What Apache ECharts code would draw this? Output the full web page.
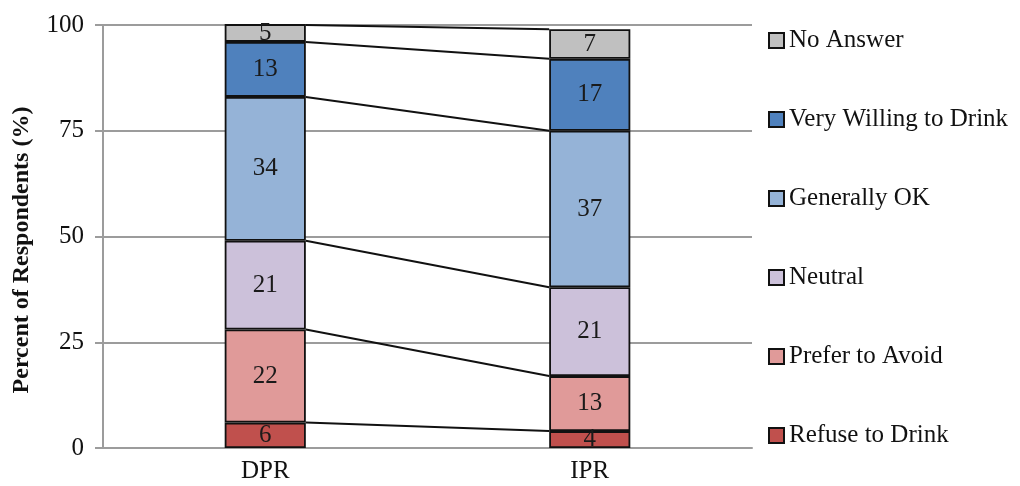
<!DOCTYPE html>
<html>
<head>
<meta charset="utf-8">
<script src="https://cdn.jsdelivr.net/npm/echarts@6/dist/echarts.min.js"></script>
<style>
  html, body { margin: 0; padding: 0; background: #fff; }
  #chart { width: 1020px; height: 486px; }
</style>
</head>
<body>
<div id="chart"></div>
<script>
// Survey groups on the x axis
const categories = ['DPR', 'IPR'];

// Response shares (percent of respondents), stacked bottom to top
const refuseToDrink = [6, 4];
const preferToAvoid = [22, 13];
const neutral = [21, 21];
const generallyOK = [34, 37];
const veryWillingToDrink = [13, 17];
const noAnswer = [5, 7];

const seriesNames = ['Refuse to Drink', 'Prefer to Avoid', 'Neutral', 'Generally OK', 'Very Willing to Drink', 'No Answer'];
const yTicks = [0, 25, 50, 75, 100];

const seriesValues = [refuseToDrink, preferToAvoid, neutral, generallyOK, veryWillingToDrink, noAnswer];
const seriesColors = ['#c0504d', '#e09a99', '#ccc1da', '#95b3d7', '#4f81bd', '#c0c0c0'];

const SERIF = '"Liberation Serif", "Times New Roman", serif';
const BAR_RATIO = 0.25;
const Y_MAX = yTicks[yTicks.length - 1];
const AXIS_GREY = '#9c9c9c';

// Cumulative tops of each segment, used for the connector lines between bars
const cumulative = [];
const running = categories.map(() => 0);
seriesValues.forEach(vals => {
  vals.forEach((v, i) => { running[i] += v; });
  cumulative.push(running.slice());
});
const connectorData = cumulative.map(c => [0, Math.min(c[0], Y_MAX), Math.min(c[1], Y_MAX)]);

const barSeries = seriesNames.map((name, k) => ({
  name: name,
  type: 'bar',
  stack: 'total',
  barWidth: (BAR_RATIO * 100) + '%',
  data: seriesValues[k],
  itemStyle: { color: seriesColors[k], borderColor: '#111', borderWidth: 1.8 },
  label: {
    show: true,
    position: 'inside',
    color: '#1a1a1a',
    fontFamily: SERIF,
    fontSize: 25
  },
  emphasis: { disabled: true }
}));

const connectorSeries = {
  type: 'custom',
  name: 'connectors',
  silent: true,
  z: 3,
  encode: { x: 0, y: [1, 2] },
  data: connectorData,
  renderItem: function (params, api) {
    const a = api.coord([0, api.value(1)]);
    const b = api.coord([1, api.value(2)]);
    const half = api.size([1, 0])[0] * BAR_RATIO / 2;
    return {
      type: 'line',
      shape: { x1: a[0] + half, y1: a[1], x2: b[0] - half, y2: b[1] },
      style: { stroke: '#111', lineWidth: 2 }
    };
  }
};

const chart = echarts.init(document.getElementById('chart'));
chart.setOption({
  animation: false,
  backgroundColor: '#fff',
  grid: { left: 103, right: 268, top: 25, bottom: 38, containLabel: false, outerBoundsMode: 'none' },
  legend: {
    data: seriesNames.slice().reverse(),
    orient: 'vertical',
    left: 763,
    top: 23,
    itemGap: 54,
    itemWidth: 15,
    itemHeight: 15,
    icon: 'rect',
    selectedMode: false,
    textStyle: { fontFamily: SERIF, fontSize: 25, color: '#111' }
  },
  xAxis: {
    type: 'category',
    data: categories,
    axisLine: { show: true, lineStyle: { color: AXIS_GREY, width: 2 } },
    axisTick: { show: false },
    axisLabel: { fontFamily: SERIF, fontSize: 25, color: '#111', margin: 11 }
  },
  yAxis: {
    type: 'value',
    min: 0,
    max: Y_MAX,
    interval: 25,
    name: 'Percent of Respondents (%)',
    nameLocation: 'middle',
    nameGap: 69,
    nameTextStyle: { fontFamily: SERIF, fontSize: 24, fontWeight: 'bold', color: '#111', padding: [0, 27, 0, 0] },
    axisLine: { show: true, lineStyle: { color: AXIS_GREY, width: 2 } },
    axisTick: { show: true, length: 8, lineStyle: { color: AXIS_GREY, width: 2 } },
    axisLabel: { fontFamily: SERIF, fontSize: 25, color: '#111', margin: 19 },
    splitLine: { show: true, lineStyle: { color: AXIS_GREY, width: 2 } }
  },
  series: barSeries.concat([connectorSeries])
});
</script>
</body>
</html>
